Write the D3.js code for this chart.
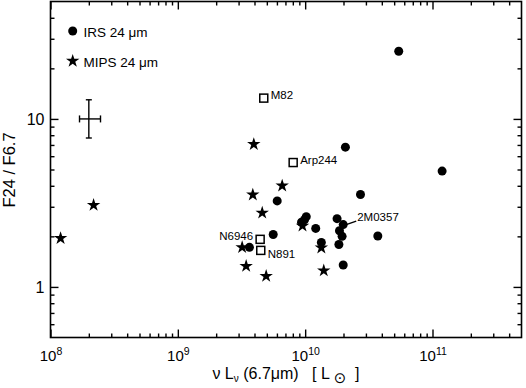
<!DOCTYPE html>
<html><head><meta charset="utf-8">
<script src="https://cdn.jsdelivr.net/npm/d3@7"></script>
<style>
body{margin:0;background:#fff}
svg{display:block}
text{font-family:"Liberation Sans",Arial,Helvetica,sans-serif;fill:#000}
</style>
</head><body>
<script>
// IRS 24 micron sample
const irsLum   = [5.43e10, 2.07e10, 1.19e11, 2.72e10, 6.03e9, 1.02e10, 9.88e9, 9.36e9, 1.21e10, 1.78e10, 1.99e10, 1.86e10, 1.95e10, 3.72e10, 5.61e9, 3.65e9, 1.34e10, 1.84e10, 1.99e10];
const irsRatio = [25.3, 6.79, 4.89, 3.55, 3.25, 2.62, 2.51, 2.43, 2.23, 2.55, 2.35, 2.16, 2.00, 2.01, 2.05, 1.72, 1.84, 1.79, 1.35];
// MIPS 24 micron sample
const mipsLum   = [2.18e8, 1.2e8, 3.95e9, 6.60e9, 3.88e9, 4.60e9, 9.53e9, 3.20e9, 1.34e10, 3.44e9, 4.94e9, 1.40e10];
const mipsRatio = [3.07, 1.95, 7.07, 4.00, 3.54, 2.76, 2.31, 1.72, 1.71, 1.33, 1.16, 1.25];
// template galaxies
const tmplNames = ["M82", "Arp244", "N6946", "N891"];
const tmplLum   = [4.73e9, 8.05e9, 4.43e9, 4.48e9];
const tmplRatio = [13.3, 5.50, 1.92, 1.65];
// labelled object
const idName = "2M0357";
const idLum = 1.99e10, idRatio = 2.35;
// typical error bar
const errLum = [1.69e8, 2.0e8, 2.47e8];
const errRatio = [7.7, 10, 13.0];
// ticks
const xMajor = [1e8, 1e9, 1e10, 1e11];
const xMajorExp = ["8", "9", "10", "11"];
const yMajor = [1, 10];
const yMajorLabels = ["1", "10"];

const W = 526, H = 388;
const L = 50.5, R = 521.5, T = 1.5, B = 337.5;
const svg = d3.select("body").append("svg").attr("width", W).attr("height", H);

const x = d3.scaleLog().domain([1e8, 5e11]).range([L, R]);
const y = d3.scaleLog().domain([0.5, 50]).range([B, T]);

const xMinor = [];
for (let e = 8; e <= 11; e++) for (let k = 2; k <= 9; k++) { const v = k * Math.pow(10, e); if (v < 5e11) xMinor.push(v); }
const yMinor = [];
for (let e = -1; e <= 1; e++) for (let k = 2; k <= 9; k++) { const v = k * Math.pow(10, e); if (v > 0.5 && v < 50) yMinor.push(v); }

const MAJ = 8, MIN = 4;
function axisG(axis, tx, ty) {
  const g = svg.append("g").attr("transform", `translate(${tx},${ty})`).call(axis);
  g.select(".domain").remove();
  g.selectAll(".tick line").attr("stroke", "#000").attr("stroke-width", 1.4);
  return g;
}
// bottom
const gxb = axisG(d3.axisBottom(x).tickValues(xMajor).tickSize(-MAJ).tickFormat(""), 0, B);
axisG(d3.axisBottom(x).tickValues(xMinor).tickSize(-MIN).tickFormat(""), 0, B);
// top
axisG(d3.axisTop(x).tickValues(xMajor).tickSize(-MAJ).tickFormat(""), 0, T);
axisG(d3.axisTop(x).tickValues(xMinor).tickSize(-MIN).tickFormat(""), 0, T);
// left
const gyl = axisG(d3.axisLeft(y).tickValues(yMajor).tickSize(-MAJ).tickFormat(""), L, 0);
axisG(d3.axisLeft(y).tickValues(yMinor).tickSize(-MIN).tickFormat(""), L, 0);
// right
axisG(d3.axisRight(y).tickValues(yMajor).tickSize(-MAJ).tickFormat(""), R, 0);
axisG(d3.axisRight(y).tickValues(yMinor).tickSize(-MIN).tickFormat(""), R, 0);

// frame
svg.append("rect").attr("x", L).attr("y", T).attr("width", R - L).attr("height", B - T)
  .attr("fill", "none").attr("stroke", "#000").attr("stroke-width", 1.6);

// x tick labels with superscripts
gxb.selectAll(".tick").each(function(d, i) {
  const t = d3.select(this).append("text").attr("y", 23).attr("text-anchor", "middle").style("font-size", "15px");
  t.append("tspan").text("10");
  t.append("tspan").attr("dy", -6).style("font-size", "10.5px").text(xMajorExp[i]);
});
// y tick labels
gyl.selectAll(".tick").each(function(d, i) {
  d3.select(this).append("text").attr("x", -6).attr("dy", "0.36em").attr("text-anchor", "end")
    .style("font-size", "16px").text(yMajorLabels[i]);
});

// axis titles
const xt = svg.append("text").attr("x", 286).attr("y", 379).attr("text-anchor", "middle")
  .style("font-size", "16px").attr("xml:space", "preserve").style("white-space", "pre");
xt.append("tspan").text("ν L");
xt.append("tspan").attr("dy", 3).style("font-size", "10px").text("ν");
xt.append("tspan").attr("dy", -3).text(" (6.7μm)   [ L ");
xt.append("tspan").attr("dy", 4).style("font-family", "DejaVu Sans").style("font-size", "15px").text("⊙");
xt.append("tspan").attr("dy", -4).text("  ]");

svg.append("text").attr("transform", "translate(15,170) rotate(-90)").attr("text-anchor", "middle")
  .style("font-size", "16.5px").text("F24 / F6.7");

// error bar
const eg = svg.append("g").attr("stroke", "#000").attr("stroke-width", 1.4).attr("fill", "none");
eg.append("line").attr("x1", x(errLum[0])).attr("x2", x(errLum[2])).attr("y1", y(errRatio[1])).attr("y2", y(errRatio[1]));
eg.append("line").attr("x1", x(errLum[1])).attr("x2", x(errLum[1])).attr("y1", y(errRatio[0])).attr("y2", y(errRatio[2]));
[errLum[0], errLum[2]].forEach(v => eg.append("line").attr("x1", x(v)).attr("x2", x(v)).attr("y1", y(errRatio[1]) - 3.5).attr("y2", y(errRatio[1]) + 3.5));
[errRatio[0], errRatio[2]].forEach(v => eg.append("line").attr("x1", x(errLum[1]) - 3).attr("x2", x(errLum[1]) + 3).attr("y1", y(v)).attr("y2", y(v)));

const star = d3.symbol().type(d3.symbolStar).size(56);

// MIPS stars
svg.append("g").selectAll("path").data(mipsLum).join("path")
  .attr("transform", (d, i) => `translate(${x(d)},${y(mipsRatio[i])})`).attr("d", star).attr("fill", "#000");
// IRS circles
svg.append("g").selectAll("circle").data(irsLum).join("circle")
  .attr("cx", d => x(d)).attr("cy", (d, i) => y(irsRatio[i])).attr("r", 4.5).attr("fill", "#000");

// templates
svg.append("g").selectAll("rect").data(tmplLum).join("rect")
  .attr("x", d => x(d) - 4).attr("y", (d, i) => y(tmplRatio[i]) - 4).attr("width", 8).attr("height", 8)
  .attr("fill", "#fff").attr("stroke", "#000").attr("stroke-width", 1.5);
const lblOff = [[7, 1], [7, 1], [-7, 1], [7, 8]];
const lblAnchor = ["start", "start", "end", "start"];
svg.append("g").selectAll("text").data(tmplNames).join("text")
  .attr("x", (d, i) => x(tmplLum[i]) + lblOff[i][0]).attr("y", (d, i) => y(tmplRatio[i]) + lblOff[i][1])
  .attr("text-anchor", (d, i) => lblAnchor[i]).style("font-size", "11.5px").text(d => d);

// 2M0357 leader
svg.append("line").attr("x1", x(idLum) + 3).attr("y1", y(idRatio)).attr("x2", x(idLum) + 13).attr("y2", y(idRatio) - 3.5)
  .attr("stroke", "#000").attr("stroke-width", 1.3);
svg.append("text").attr("x", x(idLum) + 14).attr("y", y(idRatio) - 3.5).style("font-size", "11.5px").text(idName);

// legend
svg.append("circle").attr("cx", 72.7).attr("cy", 31).attr("r", 4.5).attr("fill", "#000");
svg.append("path").attr("transform", "translate(72.7,61)").attr("d", star).attr("fill", "#000");
svg.append("text").attr("x", 83.5).attr("y", 36.5).style("font-size", "13.5px").text("IRS 24 μm");
svg.append("text").attr("x", 83.5).attr("y", 66.5).style("font-size", "13.5px").text("MIPS 24 μm");
</script>
</body></html>
